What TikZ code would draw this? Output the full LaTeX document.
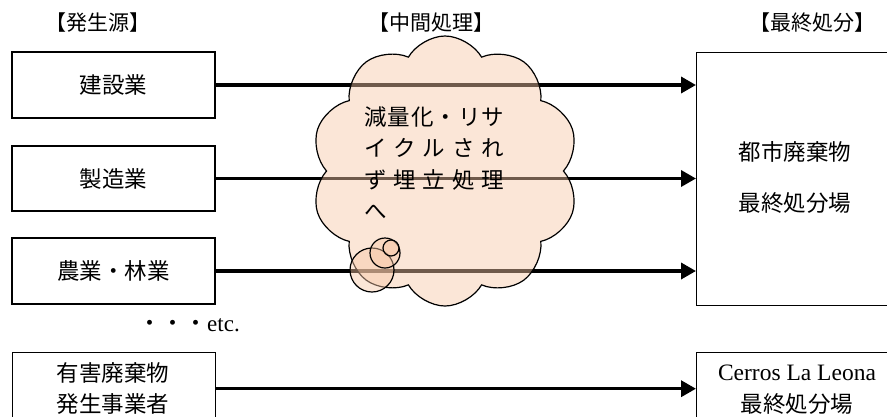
\documentclass[tikz,border=0pt]{standalone}
\usepackage{fontspec}
\setmainfont{Liberation Serif}
\newfontfamily\jp{Noto Sans CJK JP}
\usetikzlibrary{shapes.symbols,arrows.meta}
\definecolor{peach}{RGB}{248,200,168}
\begin{document}
\begin{tikzpicture}[x=1pt,y=-1pt,
  jptext/.style={font=\jp\fontsize{22.5}{28}\selectfont, inner sep=0pt},
  hdr/.style={font=\jp\fontsize{21}{26}\selectfont, inner sep=0pt},
  srcbox/.style={draw, line width=1.4pt, inner sep=0pt, minimum width=203pt, font=\jp\fontsize{22.5}{28}\selectfont},
  arr/.style={line width=3.5pt, -{Triangle[length=15pt,width=16pt]}},
  bubble/.style={circle, draw, line width=1.2pt, fill=peach, fill opacity=0.45, inner sep=0pt}
]
\useasboundingbox (0,0) rectangle (887,416);
\clip (0,0) rectangle (887,416);
\fill[white] (0,0) rectangle (887,416);

% headers
\node[hdr] (h1) at (98,23) {【発生源】};
\node[hdr] (h2) at (431,23) {【中間処理】};
\node[hdr] (h3) at (812,23) {【最終処分】};

% source boxes
\node[srcbox, minimum height=66pt] (b1) at (113.5,85) {建設業};
\node[srcbox, minimum height=65pt] (b2) at (113.5,178.5) {製造業};
\node[srcbox, minimum height=66pt] (b3) at (113.5,271) {農業・林業};

% final disposal box
\node[draw, line width=1.4pt, minimum width=214pt, minimum height=253pt, anchor=north west, inner sep=0pt] (R) at (696,52) {};
\node[jptext] (r1) at (795,152) {都市廃棄物};
\node[jptext] (r2) at (795,203) {最終処分場};

% arrows
\draw[arr] (b1.east) -- (b1.east -| R.west);
\draw[arr] (b2.east) -- (b2.east -| R.west);
\draw[arr] (b3.east) -- (b3.east -| R.west);

% cloud
\node[cloud, cloud puffs=10, cloud puff arc=120, aspect=1, draw, line width=1.2pt,
      fill=peach, fill opacity=0.45, minimum width=268pt, minimum height=270pt, inner sep=0pt] (C) at (445,171) {};
\node[bubble, minimum size=44pt] (p1) at (372,270) {};
\node[bubble, minimum size=30pt] (p2) at (385,253) {};
\node[bubble, minimum size=16pt] (p3) at (391,248) {};

\node[jptext, anchor=west] (t1) at (364,117) {\hbox to 140pt{減\hfill 量\hfill 化\hfill ・\hfill リ\hfill サ}};
\node[jptext, anchor=west] (t2) at (364,148) {\hbox to 140pt{イ\hfill ク\hfill ル\hfill さ\hfill れ}};
\node[jptext, anchor=west] (t3) at (364,180) {\hbox to 140pt{ず\hfill 埋\hfill 立\hfill 処\hfill 理}};
\node[jptext, anchor=west] (t4) at (364,212) {へ};

% etc
\node[inner sep=0pt, anchor=west, font=\fontsize{23}{28}\selectfont] (etc) at (138,325) {{\jp ・・・}etc.};

% bottom row
\node[draw, line width=1.4pt, minimum width=203pt, minimum height=72pt, anchor=north west, inner sep=0pt] (b4) at (12,352) {};
\node[jptext] (b4a) at (113,373) {有害廃棄物};
\node[jptext] (b4b) at (113,404) {発生事業者};
\node[draw, line width=1.4pt, minimum width=214pt, minimum height=72pt, anchor=north west, inner sep=0pt] (L) at (696,352) {};
\node[inner sep=0pt, font=\fontsize{23.5}{28}\selectfont] (La) at (797,373) {Cerros La Leona};
\node[jptext] (Lb) at (797,404) {最終処分場};
\draw[arr] (b4.east) -- (b4.east -| L.west);
\end{tikzpicture}
\end{document}
